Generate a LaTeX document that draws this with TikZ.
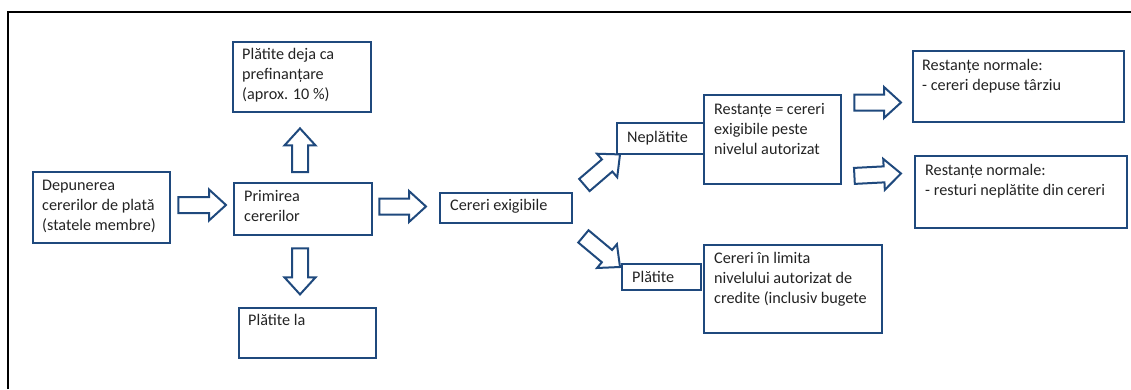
\documentclass[tikz,border=0pt]{standalone}
\usepackage{fontspec}
\setmainfont{Carlito}
\usetikzlibrary{calc}
\definecolor{boxblue}{RGB}{31,73,125}
\definecolor{txtgray}{RGB}{35,35,35}
\tikzset{
  box/.style={draw=boxblue, line width=2.4pt, rectangle, inner sep=0pt, anchor=north west},
  txt/.style={anchor=base west, align=left, inner sep=0pt, text=txtgray,
    font=\fontsize{16.2}{20}\selectfont},
  barrow/.style={draw=boxblue, line width=2pt, fill=white, line join=miter},
}
% block arrow from tail #1 to tip #2
\newcommand{\blockarrow}[2]{%
  \coordinate (h) at ($(#2)!17pt!(#1)$);
  \draw[barrow] ($(#1)!8pt!90:(#2)$) -- ($(h)!8pt!90:(#2)$) -- ($(h)!15.5pt!90:(#2)$) -- (#2)
    -- ($(h)!15.5pt!-90:(#2)$) -- ($(h)!8pt!-90:(#2)$) -- ($(#1)!8pt!-90:(#2)$) -- cycle;
}
\begin{document}
\begin{tikzpicture}[x=1pt,y=-1pt]
  \useasboundingbox (0,0) rectangle (1131,389);
  % ===== frame =====
  \draw[line width=1.3pt] (8,389) -- (8,12) -- (1131,12);

  % ===== boxes =====
  \node[box, minimum width=137pt, minimum height=71pt] (dep) at (32,171) {};
  \node[box, minimum width=138pt, minimum height=70pt] (pref) at (232,41) {};
  \node[box, minimum width=138pt, minimum height=52pt] (prim) at (233,182) {};
  \node[box, minimum width=137pt, minimum height=50pt] (pla) at (238,307) {};
  \node[box, minimum width=132pt, minimum height=30pt] (exig) at (439,192) {};
  \node[box, minimum width=87pt, minimum height=31pt] (nepl) at (616,122) {};
  \node[box, minimum width=137pt, minimum height=89pt] (rest) at (703,94) {};
  \node[box, minimum width=79pt, minimum height=26pt] (plat) at (621,263) {};
  \node[box, minimum width=178pt, minimum height=88pt] (lim) at (703,244) {};
  \node[box, minimum width=211pt, minimum height=71pt] (rn1) at (912,50) {};
  \node[box, minimum width=212pt, minimum height=72pt] (rn2) at (914,155) {};

  % ===== texts (base west = last line) =====
  \node[txt] (dep-t) at ($(dep.north west)+(10,59)$) {Depunerea\\cererilor de plată\\(statele membre)};
  \node[txt] (pref-t) at ($(pref.north west)+(10,58)$) {Plătite deja ca\\prefinanțare\\(aprox. 10 \%)};
  \node[txt] (prim-t) at ($(prim.north west)+(11,39)$) {Primirea\\cererilor};
  \node[txt] (pla-t) at ($(pla.north west)+(10,18)$) {Plătite la};
  \node[txt] (exig-t) at ($(exig.north west)+(11,18)$) {Cereri exigibile};
  \node[txt] (nepl-t) at ($(nepl.north west)+(11,20)$) {Neplătite};
  \node[txt] (rest-t) at ($(rest.north west)+(11,60)$) {Restanțe = cereri\\exigibile peste\\nivelul autorizat};
  \node[txt] (plat-t) at ($(plat.north west)+(11,19)$) {Plătite};
  \node[txt] (lim-t) at ($(lim.north west)+(11,59)$) {Cereri în limita\\nivelului autorizat de\\credite (inclusiv bugete};
  \node[txt] (rn1-t) at ($(rn1.north west)+(10,40)$) {Restanțe normale:\\- cereri depuse târziu};
  \node[txt] (rn2-t) at ($(rn2.north west)+(11,40)$) {Restanțe normale:\\- resturi neplătite din cereri};

  % ===== arrows =====
  \coordinate (a1s) at ($(dep.north east)+(7,34)$);
  \coordinate (a1e) at ($(prim.north west)+(-7,23)$);
  \coordinate (a2s) at ($(prim.north east)+(6,24.5)$);
  \coordinate (a2e) at ($(exig.north west)+(-13,14.5)$);
  \coordinate (a3s) at ($(prim.north west)+(67,-10)$);
  \coordinate (a3e) at ($(pref.south west)+(68,15)$);
  \coordinate (a4s) at ($(prim.south west)+(67,12)$);
  \coordinate (a4e) at ($(prim.south west)+(67,58)$);
  \coordinate (a5s) at ($(exig.north east)+(11,-7)$);
  \coordinate (a5e) at ($(nepl.south west)+(4,-1)$);
  \coordinate (a6s) at ($(exig.south east)+(10,12)$);
  \coordinate (a6e) at ($(plat.north west)+(-1,4)$);
  \coordinate (a7s) at ($(rest.north east)+(12,8.5)$);
  \coordinate (a7e) at ($(rn1.north west)+(-11,52.5)$);
  \coordinate (a8s) at ($(rest.south east)+(12,-9.5)$);
  \coordinate (a8e) at ($(rn2.north west)+(-13,18.5)$);
  \blockarrow{a1s}{a1e}
  \blockarrow{a2s}{a2e}
  \blockarrow{a3s}{a3e}
  \blockarrow{a4s}{a4e}
  \blockarrow{a5s}{a5e}
  \blockarrow{a6s}{a6e}
  \blockarrow{a7s}{a7e}
  \blockarrow{a8s}{a8e}
\end{tikzpicture}
\end{document}
